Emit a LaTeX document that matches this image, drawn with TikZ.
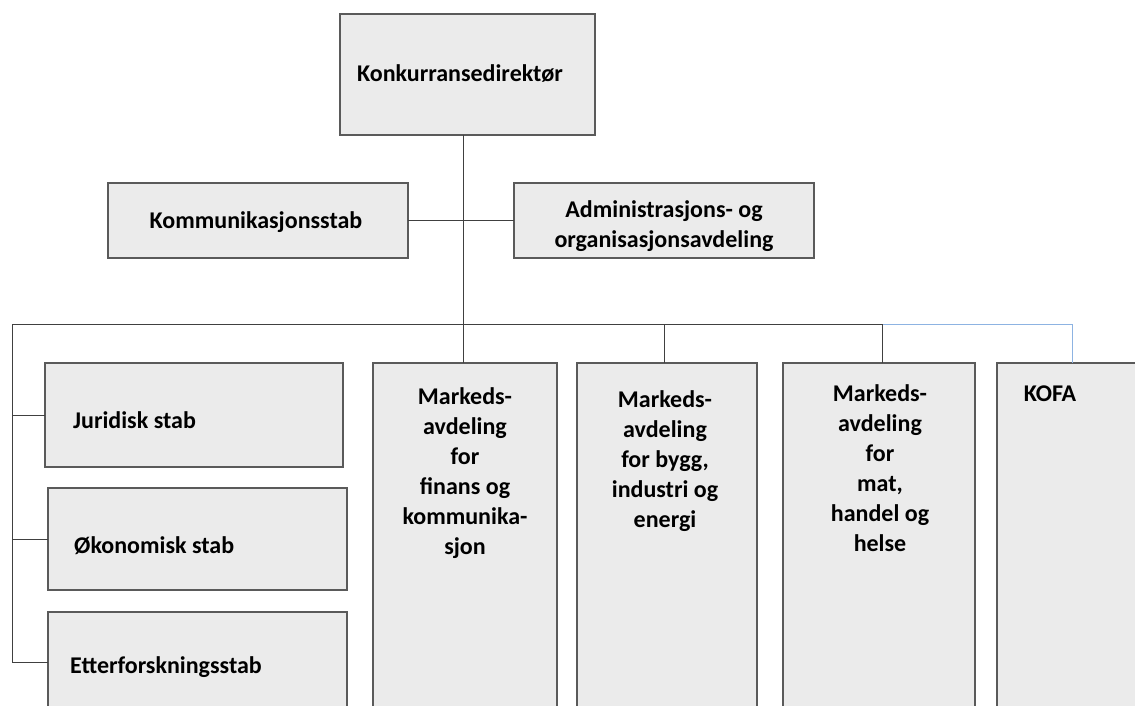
\documentclass[tikz,border=0pt]{standalone}
\usepackage{fontspec}
\setmainfont{Carlito}
\definecolor{boxfill}{HTML}{EBEBEB}
\definecolor{boxline}{HTML}{5A5A5A}
\definecolor{connline}{HTML}{404040}
\definecolor{blueline}{HTML}{8DB3E2}
\begin{document}
\begin{tikzpicture}[x=1pt,y=-1pt,
 box/.style={draw=boxline, fill=boxfill, line width=1.3pt, inner sep=0pt, outer sep=0pt, anchor=north west},
 lbl/.style={font=\fontsize{24}{30}\selectfont\bfseries, inner sep=0pt, align=center, text=black},
 conn/.style={draw=connline, line width=1pt},
 blueconn/.style={draw=blueline, line width=1pt}]
\useasboundingbox (0,0) rectangle (1135,706);
\clip (0,0) rectangle (1135,706);
\fill[white] (0,0) rectangle (1135,706);
% boxes
\node[box, minimum width=255pt, minimum height=121pt] (dir) at (340,14) {};
\node[box, minimum width=300pt, minimum height=75pt] (kom) at (108,183) {};
\node[box, minimum width=300pt, minimum height=75pt] (adm) at (514,183) {};
\node[box, minimum width=298pt, minimum height=104pt] (jur) at (45,363) {};
\node[box, minimum width=299pt, minimum height=102pt] (oko) at (48,488) {};
\node[box, minimum width=299pt, minimum height=100pt] (ett) at (48,612) {};
\node[box, minimum width=184pt, minimum height=360pt] (m1) at (373,363) {};
\node[box, minimum width=180pt, minimum height=360pt] (m2) at (577,363) {};
\node[box, minimum width=192pt, minimum height=360pt] (m3) at (783,363) {};
\node[box, minimum width=160pt, minimum height=360pt] (kofa) at (997,363) {};
% connector points
\coordinate (busL) at (12,324);
\coordinate (busC) at (463,324);
\coordinate (bus2) at (664,324);
\coordinate (bus3) at (882,324);
\coordinate (busR) at (1072,324);
% connectors
\draw[conn] (dir.south -| busC) -- (m1.north -| busC);
\draw[conn] (kom.east) -- (adm.west);
\draw[conn] (busL) -- (bus3);
\draw[blueconn] (bus3) -- (busR) -- (kofa.north -| busR);
\draw[conn] (bus2) -- (m2.north -| bus2);
\draw[conn] (bus3) -- (m3.north -| bus3);
\draw[conn] (busL) -- (busL |- ett.west) -- (ett.west);
\draw[conn] (busL |- jur.west) -- (jur.west);
\draw[conn] (busL |- oko.west) -- (oko.west);
% labels
\node[lbl] (tdir) at (460,74) {Konkurransedirektør};
\node[lbl] (tkom) at (256,222) {Kommunikasjonsstab};
\node[lbl] (tadm) at (664,226) {Administrasjons- og\\organisasjonsavdeling};
\node[lbl, anchor=west] (tjur) at (73,420) {Juridisk stab};
\node[lbl, anchor=west] (toko) at (74,546) {Økonomisk stab};
\node[lbl, anchor=west] (tett) at (70,667) {Etterforskningsstab};
\node[lbl, anchor=north] (tm1) at (465,387) {Markeds-\\avdeling\\for\\finans og\\kommunika-\\sjon};
\node[lbl, anchor=north] (tm2) at (665,390) {Markeds-\\avdeling\\for bygg,\\industri og\\energi};
\node[lbl, anchor=north] (tm3) at (880,384) {Markeds-\\avdeling\\for\\mat,\\handel og\\helse};
\node[lbl, anchor=north] (tkofa) at (1050,386) {KOFA};
\end{tikzpicture}
\end{document}
